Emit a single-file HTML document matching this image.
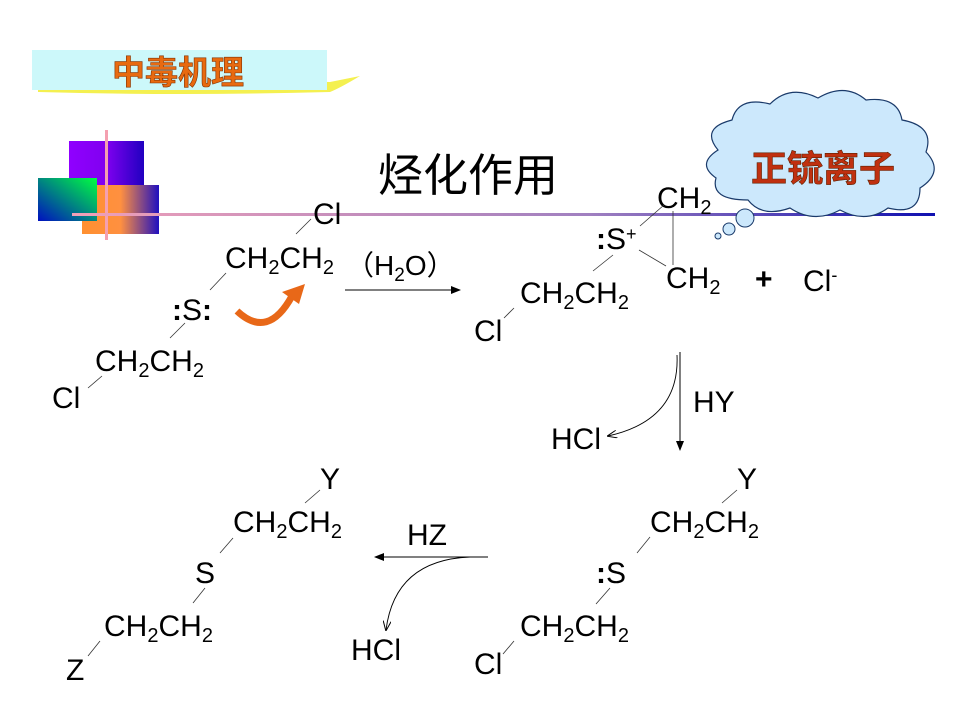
<!DOCTYPE html>
<html><head><meta charset="utf-8"><style>
body{margin:0;background:#fff}
svg{display:block}
text{font-family:"Liberation Sans","Noto Sans CJK SC",sans-serif;fill:#000}
.b{font-weight:bold}
</style></head><body>
<svg width="960" height="720" viewBox="0 0 960 720" xmlns="http://www.w3.org/2000/svg">
<defs>
<linearGradient id="hl" x1="0" x2="1"><stop offset="0" stop-color="#f0a0b8"/><stop offset="0.6" stop-color="#a080c0"/><stop offset="1" stop-color="#1010b0"/></linearGradient>
<linearGradient id="pu" x1="0" x2="1"><stop offset="0" stop-color="#9000ff"/><stop offset="0.5" stop-color="#8000f0"/><stop offset="1" stop-color="#2000c0"/></linearGradient>
<linearGradient id="or" x1="0" x2="1"><stop offset="0" stop-color="#ff9030"/><stop offset="0.5" stop-color="#ff9040"/><stop offset="1" stop-color="#2010c0"/></linearGradient>
<linearGradient id="gr" x1="1" y1="0" x2="0" y2="1"><stop offset="0" stop-color="#00ff40"/><stop offset="1" stop-color="#0010c0"/></linearGradient>
<marker id="ar" markerWidth="10" markerHeight="8" refX="9" refY="4" orient="auto" markerUnits="userSpaceOnUse"><path d="M0,0 L10,4 L0,8 Z" fill="#000"/></marker>
<marker id="oa" markerWidth="10" markerHeight="8" refX="9" refY="4" orient="auto" markerUnits="userSpaceOnUse"><path d="M0,0 L10,4 L0,8" fill="none" stroke="#000"/></marker>
</defs>
<path d="M38,90 Q150,78 330,82 L360,76 Q340,88 330,92 Q180,96 38,92 Z" fill="#f4f050"/>
<rect x="32" y="50" width="295" height="40" fill="#ccf8fa"/>
<text x="112" y="84" font-size="33" font-weight="bold" style="fill:#e86a10;stroke:#803000;stroke-width:0.6">中毒机理</text>
<rect x="69" y="141" width="75" height="44" fill="url(#pu)"/>
<rect x="82" y="185" width="77" height="49" fill="url(#or)"/>
<rect x="38" y="178" width="59" height="43" fill="url(#gr)"/>
<rect x="105" y="130" width="3" height="110" fill="#f4a0b0"/>
<rect x="72" y="213" width="863" height="3" fill="url(#hl)"/>
<text x="378" y="191" font-size="45">烃化作用</text>
<path d="M718,150 Q700,128 732,120 Q738,96 770,104 Q790,84 818,98 Q845,82 866,100 Q898,96 902,120 Q935,126 926,152 Q945,172 920,188 Q920,216 888,208 Q866,224 840,210 Q814,224 790,208 Q762,218 748,200 Q710,200 716,178 Q696,164 718,150 Z" fill="#cce8fc" stroke="#1a3a6a" stroke-width="1.2"/>
<circle cx="745" cy="218" r="9" fill="#cce8fc" stroke="#1a3a6a"/>
<circle cx="729" cy="229" r="6" fill="#cce8fc" stroke="#1a3a6a"/>
<circle cx="718" cy="236" r="3" fill="#cce8fc" stroke="#1a3a6a"/>
<text x="751" y="181" font-size="36" font-weight="bold" style="fill:#c03010;stroke:#602000;stroke-width:0.6">正锍离子</text>
<g font-size="30">
<text x="313" y="224">Cl</text>
<line x1="311" y1="219" x2="296" y2="234" stroke="#333" stroke-width="0.8"/>
<text x="225" y="268">CH<tspan font-size="20" dy="6">2</tspan><tspan dy="-6">CH</tspan><tspan font-size="20" dy="6">2</tspan></text>
<line x1="226" y1="273" x2="210" y2="290" stroke="#333" stroke-width="0.8"/>
<text x="172" y="320"><tspan class="b">:</tspan>S<tspan class="b">:</tspan></text>
<line x1="185" y1="323" x2="170" y2="338" stroke="#333" stroke-width="0.8"/>
<text x="95" y="371">CH<tspan font-size="20" dy="6">2</tspan><tspan dy="-6">CH</tspan><tspan font-size="20" dy="6">2</tspan></text>
<line x1="102" y1="376" x2="88" y2="388" stroke="#333" stroke-width="0.8"/>
<text x="52" y="408">Cl</text>
<path d="M237,311 Q268,340 292,296" fill="none" stroke="#e86818" stroke-width="7"/>
<path d="M282,292 L305,284 L299,304 Z" fill="#e86818"/>
<text x="346" y="275" font-size="28">（H<tspan font-size="19" dy="6">2</tspan><tspan dy="-6">O）</tspan></text>
<line x1="345" y1="290" x2="460" y2="290" stroke="#000" marker-end="url(#ar)"/>
<text x="657" y="208">CH<tspan font-size="20" dy="6">2</tspan></text>
<text x="596" y="249"><tspan class="b">:</tspan>S<tspan font-size="18" dy="-9">+</tspan></text>
<line x1="640" y1="226" x2="664" y2="205" stroke="#333" stroke-width="0.8"/>
<line x1="673" y1="211" x2="673" y2="265" stroke="#333" stroke-width="0.8"/>
<line x1="639" y1="250" x2="666" y2="266" stroke="#333" stroke-width="0.8"/>
<text x="666" y="288">CH<tspan font-size="20" dy="6">2</tspan></text>
<text x="755" y="289" font-weight="bold">+</text>
<text x="803" y="291">Cl<tspan font-size="18" dy="-10">-</tspan></text>
<line x1="613" y1="255" x2="593" y2="271" stroke="#333" stroke-width="0.8"/>
<text x="520" y="303">CH<tspan font-size="20" dy="6">2</tspan><tspan dy="-6">CH</tspan><tspan font-size="20" dy="6">2</tspan></text>
<line x1="514" y1="308" x2="504" y2="318" stroke="#333" stroke-width="0.8"/>
<text x="474" y="341">Cl</text>
<line x1="680" y1="352" x2="680" y2="450" stroke="#000" marker-end="url(#ar)"/>
<path d="M677,355 Q680,420 608,436" fill="none" stroke="#000" stroke-width="0.9" marker-end="url(#oa)"/>
<text x="693" y="412">HY</text>
<text x="551" y="449">HCl</text>
<text x="737" y="489">Y</text>
<line x1="737" y1="490" x2="722" y2="503" stroke="#333" stroke-width="0.8"/>
<text x="650" y="532">CH<tspan font-size="20" dy="6">2</tspan><tspan dy="-6">CH</tspan><tspan font-size="20" dy="6">2</tspan></text>
<line x1="650" y1="537" x2="637" y2="553" stroke="#333" stroke-width="0.8"/>
<text x="596" y="583"><tspan class="b">:</tspan>S</text>
<line x1="610" y1="588" x2="596" y2="604" stroke="#333" stroke-width="0.8"/>
<text x="520" y="636">CH<tspan font-size="20" dy="6">2</tspan><tspan dy="-6">CH</tspan><tspan font-size="20" dy="6">2</tspan></text>
<line x1="514" y1="641" x2="503" y2="654" stroke="#333" stroke-width="0.8"/>
<text x="474" y="674">Cl</text>
<line x1="488" y1="557" x2="375" y2="557" stroke="#000" marker-end="url(#ar)"/>
<path d="M470,557 Q395,560 386,630" fill="none" stroke="#000" stroke-width="0.9" marker-end="url(#oa)"/>
<text x="407" y="545">HZ</text>
<text x="351" y="660">HCl</text>
<text x="320" y="489">Y</text>
<line x1="320" y1="490" x2="305" y2="503" stroke="#333" stroke-width="0.8"/>
<text x="233" y="532">CH<tspan font-size="20" dy="6">2</tspan><tspan dy="-6">CH</tspan><tspan font-size="20" dy="6">2</tspan></text>
<line x1="233" y1="538" x2="220" y2="553" stroke="#333" stroke-width="0.8"/>
<text x="195" y="583">S</text>
<line x1="205" y1="588" x2="193" y2="603" stroke="#333" stroke-width="0.8"/>
<text x="104" y="636">CH<tspan font-size="20" dy="6">2</tspan><tspan dy="-6">CH</tspan><tspan font-size="20" dy="6">2</tspan></text>
<line x1="100" y1="641" x2="88" y2="656" stroke="#333" stroke-width="0.8"/>
<text x="66" y="680">Z</text>
</g>
</svg>
</body></html>
